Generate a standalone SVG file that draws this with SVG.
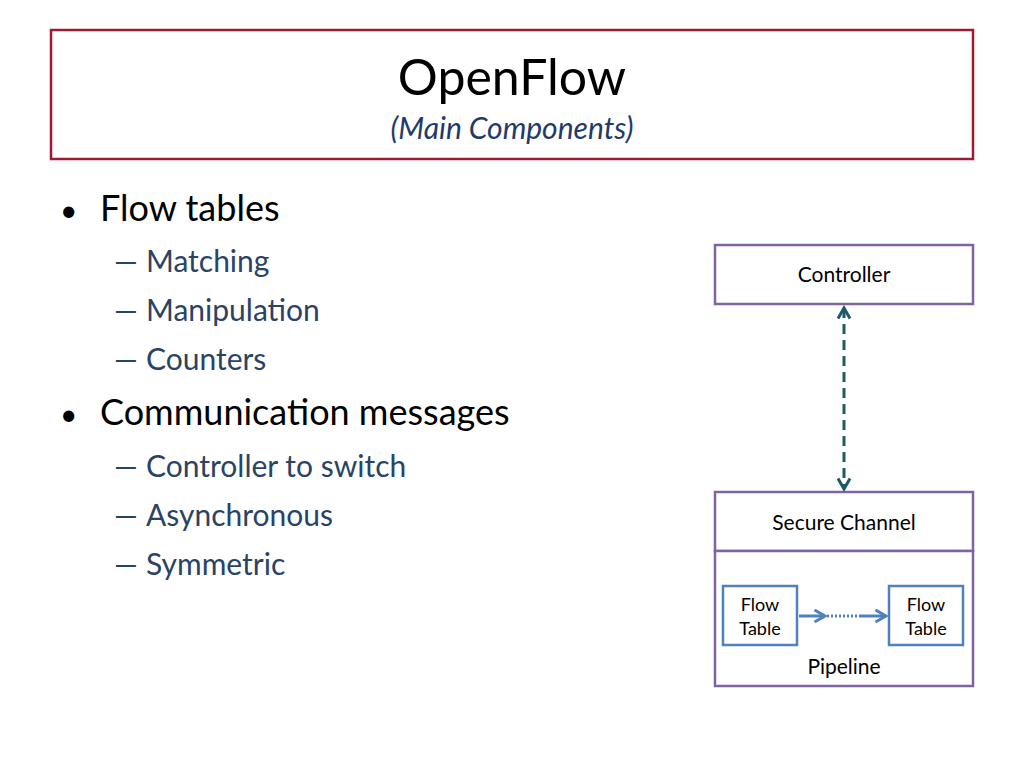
<svg xmlns="http://www.w3.org/2000/svg" width="1024" height="768" viewBox="0 0 1024 768">
<style>
text{font-family:Lato,"Open Sans","Liberation Sans",sans-serif}
.l1{font-size:36px;fill:#000}
.l2{font-size:30px;fill:#2a4365}
.box{fill:#fff;stroke:#8064a2;stroke-width:2.5}
.ft{fill:#fff;stroke:#4f81bd;stroke-width:2.5}
.s{font-size:21px;fill:#000}
.xs{font-size:18px;fill:#000}
</style>
<defs>
<marker id="ah" viewBox="0 0 10 10" refX="8" refY="5" markerWidth="5" markerHeight="5" orient="auto-start-reverse"><path d="M1,1 L8,5 L1,9" fill="none" stroke="#1f5a64" stroke-width="2"/></marker>
<marker id="ab" viewBox="0 0 10 10" refX="8" refY="5" markerWidth="5" markerHeight="5" orient="auto"><path d="M1,1 L8,5 L1,9" fill="none" stroke="#4f81bd" stroke-width="2"/></marker>
</defs>
<rect width="1024" height="768" fill="#fff"/>
<g id="title">
<rect x="51" y="30" width="922" height="129" fill="#fff" stroke="#9b1b30" stroke-width="2.5"/>
<text x="512" y="95" text-anchor="middle" font-size="50" fill="#000">OpenFlow</text>
<text x="512" y="139" text-anchor="middle" font-size="30" font-style="italic" fill="#1f3a6b">(Main Components)</text>
</g>
<g id="bullets">
<text x="60" y="221" font-size="30">•</text><text x="100" y="221" class="l1">Flow tables</text>
<text x="114" y="272" class="l2">—</text><text x="146" y="272" class="l2">Matching</text>
<text x="114" y="321" class="l2">—</text><text x="146" y="321" class="l2">Manipulation</text>
<text x="114" y="370" class="l2">—</text><text x="146" y="370" class="l2">Counters</text>
<text x="60" y="425" font-size="30">•</text><text x="100" y="425" class="l1">Communication messages</text>
<text x="114" y="477" class="l2">—</text><text x="146" y="477" class="l2">Controller to switch</text>
<text x="114" y="526" class="l2">—</text><text x="146" y="526" class="l2">Asynchronous</text>
<text x="114" y="575" class="l2">—</text><text x="146" y="575" class="l2">Symmetric</text>
</g>
<g id="controller"><rect class="box" x="715" y="245" width="258" height="59"/><text class="s" x="844" y="282" text-anchor="middle">Controller</text></g>
<g id="secure"><rect class="box" x="715" y="492" width="258" height="59"/><text class="s" x="844" y="530" text-anchor="middle">Secure Channel</text></g>
<g id="pipeline"><rect class="box" x="715" y="551" width="258" height="135"/><text class="s" x="844" y="674" text-anchor="middle">Pipeline</text></g>
<g id="ft1"><rect class="ft" x="723" y="586" width="74" height="59"/><text class="xs" x="760" y="611" text-anchor="middle">Flow</text><text class="xs" x="760" y="635" text-anchor="middle">Table</text></g>
<g id="ft2"><rect class="ft" x="889" y="586" width="74" height="59"/><text class="xs" x="926" y="611" text-anchor="middle">Flow</text><text class="xs" x="926" y="635" text-anchor="middle">Table</text></g>
<g id="connectors">
<line x1="844" y1="308" x2="844" y2="489" stroke="#1f5a64" stroke-width="3" stroke-dasharray="10,6" marker-start="url(#ah)" marker-end="url(#ah)"/>
<line x1="799" y1="616" x2="825" y2="616" stroke="#4f81bd" stroke-width="3" marker-end="url(#ab)"/>
<line x1="827" y1="616" x2="860" y2="616" stroke="#4f81bd" stroke-width="3" stroke-dasharray="2,2"/>
<line x1="860" y1="616" x2="886" y2="616" stroke="#4f81bd" stroke-width="3" marker-end="url(#ab)"/>
</g>
</svg>
